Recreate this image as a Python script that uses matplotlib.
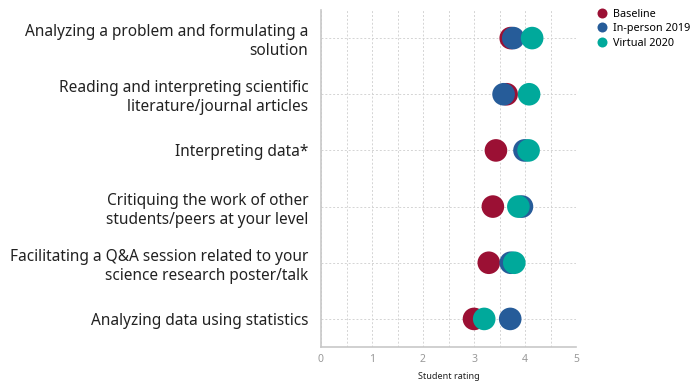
import matplotlib
matplotlib.use("Agg")
import matplotlib.pyplot as plt
from matplotlib.lines import Line2D

plt.rcParams['font.family'] = ['Noto Sans', 'DejaVu Sans']

categories = [
    "Analyzing a problem and formulating a\nsolution",
    "Reading and interpreting scientific\nliterature/journal articles",
    "Interpreting data*",
    "Critiquing the work of other\nstudents/peers at your level",
    "Facilitating a Q&A session related to your\nscience research poster/talk",
    "Analyzing data using statistics",
]
baseline = [3.72, 3.64, 3.43, 3.37, 3.29, 3.00]
inperson = [3.77, 3.58, 3.99, 3.94, 3.72, 3.71]
virtual = [4.14, 4.08, 4.07, 3.87, 3.79, 3.20]
series_names = ["Baseline", "In-person 2019", "Virtual 2020"]
colors = ["#9b1034", "#265c99", "#00a99b"]
xticks = [0, 1, 2, 3, 4, 5]

fig = plt.figure(figsize=(6.91, 3.82), dpi=100)
ax = fig.add_axes([321/691, 1-347/382, 255/691, 337/382])

ypos = list(range(len(categories)))
for vals, c, name in zip([baseline, inperson, virtual], colors, series_names):
    ax.scatter(vals, ypos, s=265, color=c, edgecolors='none', zorder=3, label=name)

ax.set_xlim(0, 5)
ax.set_ylim(len(categories) - 0.5, -0.5)
ax.set_xticks(xticks)
ax.set_xticks([i * 0.5 for i in range(11)], minor=True)
ax.set_yticks(ypos)
ax.set_yticklabels(categories, fontsize=11.1, color='#222222', linespacing=1.25)
ax.tick_params(axis='y', length=0, pad=9)
ax.tick_params(axis='x', which='both', length=0, pad=5, labelsize=7.5, labelcolor='#999999')
ax.grid(True, which='both', axis='x', linestyle=(0, (2, 2)), color='#d4d4d4', linewidth=0.7, zorder=0)
ax.grid(True, which='major', axis='y', linestyle=(0, (2, 2)), color='#d4d4d4', linewidth=0.7, zorder=0)
for s in ['top', 'right']:
    ax.spines[s].set_visible(False)
for s in ['left', 'bottom']:
    ax.spines[s].set_color('#c8c8c8')
    ax.spines[s].set_linewidth(1.2)
ax.set_xlabel("Student rating", fontsize=6.5, color='#222222', labelpad=5)

handles = [Line2D([0], [0], marker='o', linestyle='none', markersize=7.2,
                  markerfacecolor=c, markeredgecolor='none') for c in colors]
fig.legend(handles, series_names, loc='upper left', bbox_to_anchor=(597/691, 1-9/382),
           frameon=False, fontsize=7.8, handletextpad=0.45, labelspacing=0.3,
           borderaxespad=0, borderpad=0, handlelength=1.0)

fig.savefig("out.png", dpi=100)
